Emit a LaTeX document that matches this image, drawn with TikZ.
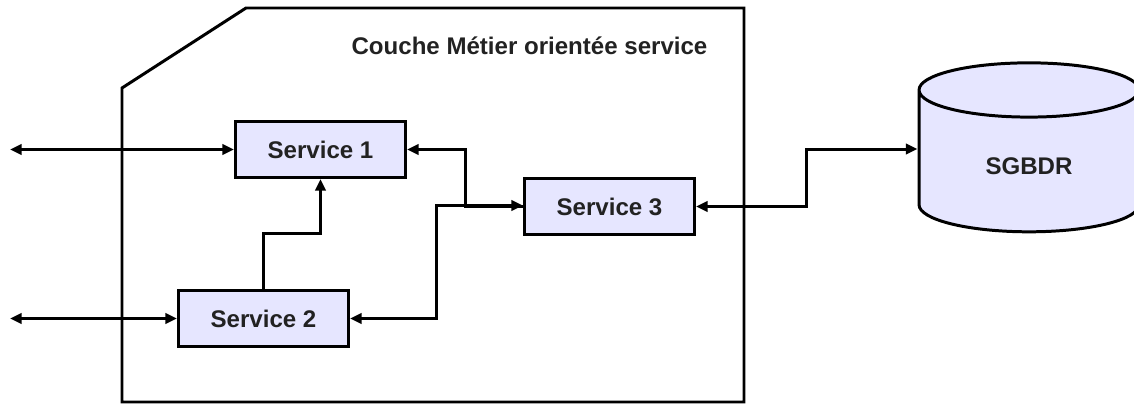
\documentclass[tikz,border=0pt]{standalone}
\usepackage{fontspec}
\setmainfont{Liberation Sans}
\usetikzlibrary{arrows.meta, shapes.geometric}
\definecolor{boxfill}{HTML}{E6E6FF}
\definecolor{labeltext}{HTML}{222222}
\tikzset{
>={Triangle[length=6.6pt,width=5.8pt]},
  service/.style={
    rectangle,
    fill=boxfill,
    draw=black, line width=1.7pt,
    minimum width=3.4cm,
    minimum height=1.12cm,
    text=labeltext,
    font=\fontsize{13.7}{16}\selectfont\bfseries},
  base/.style={
    cylinder,
    shape border rotate=90,
    aspect=0.55,
    fill=boxfill,
    draw=black, line width=1.7pt,
    minimum width=4.4cm,
    minimum height=3.38cm,
    text=labeltext,
    font=\fontsize{13.7}{16}\selectfont\bfseries},
  line/.style={draw, line width=1.7pt},
  couche/.style={draw, line width=1.7pt},
  titre/.style={text=labeltext, font=\fontsize{13.7}{16}\selectfont\bfseries},
}

\begin{document}
\begin{tikzpicture}[x=0.02cm, y=-0.02cm]
     \useasboundingbox (0,0) rectangle (1134,403);
     % couche metier
     \draw[couche] (122,402) -- (122,88) -- (246,8) -- (744,8) -- (744,402) -- cycle;
     \node[titre] (Titre) at (529.5,46) {Couche Métier orientée service};

     \node[service] (Service1) at (320.5,149.5) {Service 1};
     \node[service] (Service2) at (263.5,318.5) {Service 2};
     \node[service] (Service3) at (609.5,206.5) {Service 3};
     \node[base] (SGBDR) at (1029,166) {SGBDR};

     \coordinate (Client1) at (10,149.5);
     \coordinate (Client2) at (10,318.5);
     \coordinate (Coude) at (290,233.5);

     \path[line, <->] (Client1) -- (Service1.west);
     \path[line, <->] (Client2) -- (Service2.west);
     \path[line, ->] (Service2.north) |- (Coude) -| (Service1.south);
     \path[line, ->] (Service3.west) -- (465.5,206.5) |- (Service1.east);
     \path[line, <->] (Service2.east) -| (436.5,205.5) -- ([yshift=0.57pt]Service3.west);
     \path[line, <->] (Service3.east) -- (806.5,206.5) |- ([yshift=0.34cm]SGBDR.west);
\end{tikzpicture}
\end{document}
